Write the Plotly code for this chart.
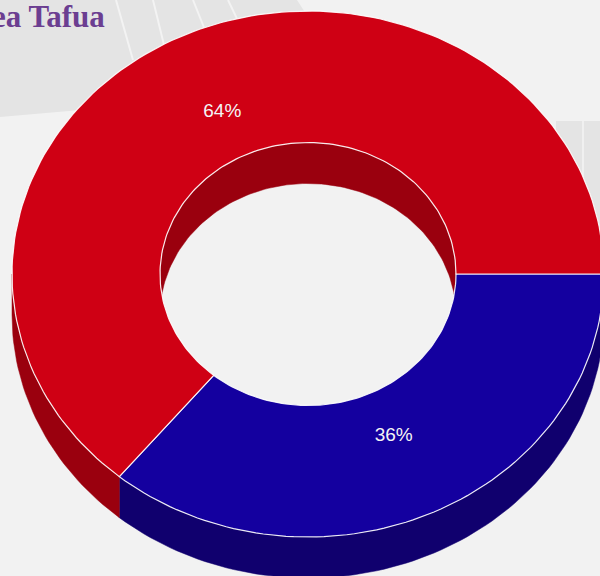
import numpy as np
import plotly.graph_objects as go

# ---- data ----
categories = ["Red", "Blue"]
values = [64, 36]
top_colors = ["#cf0014", "#14009f"]
side_colors = ["#9a000e", "#10006e"]
title_text = "ea Tafua"

# ---- geometry (pixels) ----
W, H = 600, 576
CX, CY = 308, 274
RX, RY = 296, 263
HOLE = 0.5
DEPTH = 41
LABEL_R = 0.68
N = 240

total = float(sum(values))
order = list(range(len(values)))[::-1]
spans = {}
a = 0.0
for i in order:
    sweep = 2 * np.pi * values[i] / total
    spans[i] = (a, a + sweep)
    a += sweep


def arc(t0, t1, k, dy=0.0, n=N):
    th = np.linspace(t0, t1, max(3, int(n * abs(t1 - t0) / (2 * np.pi)) + 3))
    return CX + k * RX * np.cos(th), CY + k * RY * np.sin(th) + dy


def intersect(a0, a1, b0, b1):
    lo, hi = max(a0, b0), min(a1, b1)
    return (lo, hi) if hi > lo else None


fig = go.Figure()

# outer side walls (front half)
for i in order:
    t0, t1 = spans[i]
    for rng in [(0, np.pi), (2 * np.pi, 3 * np.pi)]:
        seg = intersect(t0, t1, *rng)
        if seg is None:
            continue
        xs, ys = arc(seg[0], seg[1], 1.0)
        xb, yb = arc(seg[1], seg[0], 1.0, DEPTH)
        fig.add_trace(go.Scatter(x=np.r_[xs, xb, xs[:1]], y=np.r_[ys, yb, ys[:1]],
                                 fill="toself", fillcolor=side_colors[i], mode="lines",
                                 line=dict(color=side_colors[i], width=0.5),
                                 hoverinfo="skip", showlegend=False))

# inner walls (back half, seen through the hole)
th1 = np.arcsin(DEPTH / (2 * HOLE * RY))
rix, riy = HOLE * RX, HOLE * RY
for i in order:
    t0, t1 = spans[i]
    for rng in [(np.pi - th1, 2 * np.pi), (0, th1)]:
        seg = intersect(t0, t1, *rng)
        if seg is None:
            continue
        xs, ys = arc(seg[0], seg[1], HOLE)
        xr, yr = xs[::-1], ys[::-1]
        lower = CY + riy * np.sqrt(np.clip(1 - ((xr - CX) / rix) ** 2, 0, 1))
        yb = np.minimum(yr + DEPTH, lower)
        fig.add_trace(go.Scatter(x=np.r_[xs, xr, xs[:1]], y=np.r_[ys, yb, ys[:1]],
                                 fill="toself", fillcolor=side_colors[i], mode="lines",
                                 line=dict(color=side_colors[i], width=0.5),
                                 hoverinfo="skip", showlegend=False))

# top faces
for i in order:
    t0, t1 = spans[i]
    xo, yo = arc(t0, t1, 1.0)
    xi, yi = arc(t1, t0, HOLE)
    fig.add_trace(go.Scatter(x=np.r_[xo, xi, xo[:1]], y=np.r_[yo, yi, yo[:1]],
                             fill="toself", fillcolor=top_colors[i], mode="lines",
                             line=dict(color="rgba(255,255,255,0.9)", width=1.2),
                             name=categories[i], hoverinfo="name", showlegend=False))

# labels
lx, ly, lt = [], [], []
for i in order:
    t0, t1 = spans[i]
    m = (t0 + t1) / 2
    lx.append(CX + LABEL_R * RX * np.cos(m))
    ly.append(CY + LABEL_R * RY * np.sin(m))
    lt.append(f"{round(100 * values[i] / total)}%")
fig.add_trace(go.Scatter(x=lx, y=ly, text=lt, mode="text",
                         textfont=dict(family="Liberation Sans, Arial", size=19, color="#f4f4f4"),
                         hoverinfo="skip", showlegend=False))

shapes = [
    dict(type="path", path="M 0 0 L 297 0 L 310 20 L 310 90 L 0 117 Z",
         fillcolor="#e4e4e4", line=dict(width=0), layer="below"),
    dict(type="rect", x0=556, x1=600, y0=121, y1=330,
         fillcolor="#e4e4e4", line=dict(width=0), layer="below"),
    dict(type="line", x0=583, x1=583, y0=121, y1=330,
         line=dict(color="rgba(255,255,255,0.6)", width=1.5), layer="below"),
]
for (x0, y0, x1, y1) in [(116, 0, 133, 60), (153, 0, 164, 45), (193, 0, 205, 30), (228, 0, 240, 25)]:
    shapes.append(dict(type="line", x0=x0, y0=y0, x1=x1, y1=y1,
                       line=dict(color="rgba(255,255,255,0.55)", width=2), layer="below"))

fig.update_layout(
    width=W, height=H, autosize=False,
    margin=dict(l=0, r=0, t=0, b=0),
    paper_bgcolor="#f2f2f2", plot_bgcolor="#f2f2f2",
    xaxis=dict(range=[0, W], visible=False, fixedrange=True),
    yaxis=dict(range=[H, 0], visible=False, fixedrange=True),
    shapes=shapes,
    annotations=[dict(x=107, y=16, xref="x", yref="y", xanchor="right", yanchor="middle",
                      text=f"<b>{title_text}</b>", showarrow=False,
                      font=dict(family="Liberation Serif, Times New Roman", size=31, color="#6b3e91"))],
)

fig.write_html("out.html", config={"displayModeBar": False},
               post_script="document.body.style.margin='0';document.body.style.overflow='hidden';document.body.style.background='#f2f2f2';")
